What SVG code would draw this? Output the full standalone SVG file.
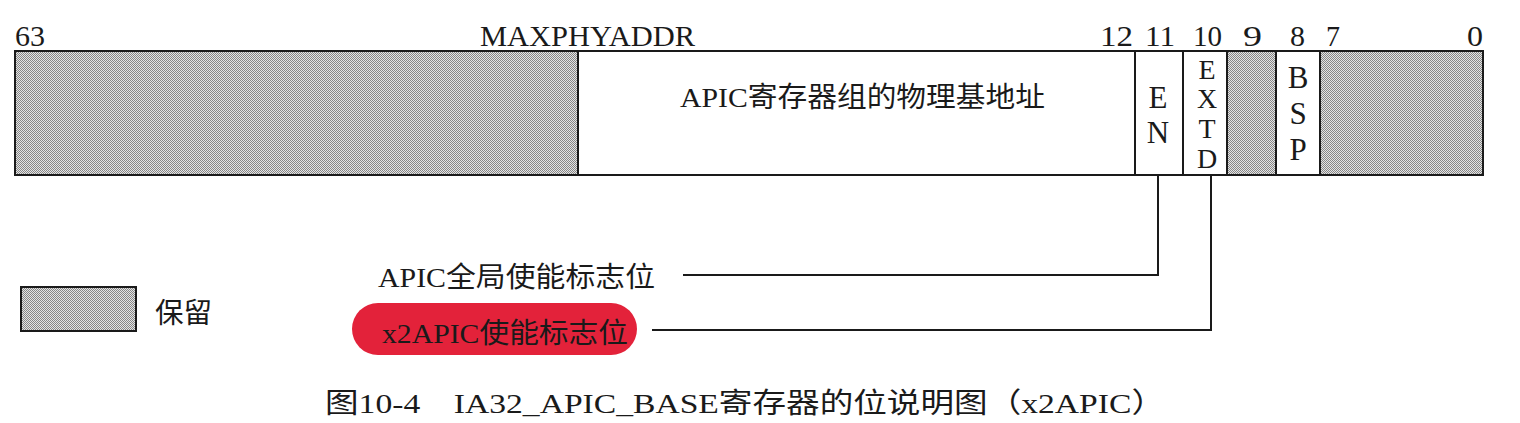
<svg xmlns="http://www.w3.org/2000/svg" width="1520" height="423" viewBox="0 0 1520 423">
<defs>
<pattern id="dots" width="2" height="2" patternUnits="userSpaceOnUse">
<rect width="2" height="2" fill="#e4e4e4"/>
<rect width="1" height="1" fill="#868686"/>
<rect x="1" y="1" width="1" height="1" fill="#868686"/>
</pattern>
<style>
text{font-family:"Liberation Serif","Noto Sans CJK SC",serif;fill:#1a1a1a;font-size:28px}
.num{font-size:30px}
.ltr{font-size:31px;text-anchor:middle}
.ltr2{font-size:28px;text-anchor:middle}
.res{fill:url(#dots);stroke:#1a1a1a;stroke-width:2}
.fld{fill:#fff;stroke:#1a1a1a;stroke-width:2}
.conn{fill:none;stroke:#1a1a1a;stroke-width:2}
</style>
</defs>
<rect width="1520" height="423" fill="#fff"/>
<g id="bit-labels">
<text class="num" x="15" y="46" textLength="30" lengthAdjust="spacingAndGlyphs">63</text>
<text class="num" x="480" y="46" textLength="215" lengthAdjust="spacingAndGlyphs">MAXPHYADDR</text>
<text class="num" x="1100" y="46" textLength="33" lengthAdjust="spacingAndGlyphs">12</text>
<text class="num" x="1145" y="46" textLength="30" lengthAdjust="spacingAndGlyphs">11</text>
<text class="num" x="1193" y="46" textLength="29" lengthAdjust="spacingAndGlyphs">10</text>
<text class="num" x="1243" y="46" textLength="19" lengthAdjust="spacingAndGlyphs">9</text>
<text class="num" x="1290" y="46" textLength="15" lengthAdjust="spacingAndGlyphs">8</text>
<text class="num" x="1326" y="46" textLength="14" lengthAdjust="spacingAndGlyphs">7</text>
<text class="num" x="1467" y="46" textLength="16" lengthAdjust="spacingAndGlyphs">0</text>
</g>
<g id="reserved-63-MAX">
<rect class="res" x="15" y="51" width="563" height="124"/>
</g>
<g id="base-address">
<rect class="fld" x="578" y="51" width="557" height="124"/>
<text x="680" y="107" textLength="365" lengthAdjust="spacingAndGlyphs">APIC寄存器组的物理基地址</text>
</g>
<g id="field-EN">
<rect class="fld" x="1135" y="51" width="48" height="124"/>
<text class="ltr" x="1158" y="108">E</text>
<text class="ltr" x="1158" y="143">N</text>
</g>
<g id="field-EXTD">
<rect class="fld" x="1183" y="51" width="44" height="124"/>
<text class="ltr2" x="1207" y="79">E</text>
<text class="ltr2" x="1207" y="108">X</text>
<text class="ltr2" x="1207" y="138">T</text>
<text class="ltr2" x="1207" y="168">D</text>
</g>
<g id="reserved-9">
<rect class="res" x="1227" y="51" width="49" height="124"/>
</g>
<g id="field-BSP">
<rect class="fld" x="1276" y="51" width="44" height="124"/>
<text class="ltr" x="1298" y="88">B</text>
<text class="ltr" x="1298" y="124">S</text>
<text class="ltr" x="1298" y="160">P</text>
</g>
<g id="reserved-7-0">
<rect class="res" x="1320" y="51" width="163" height="124"/>
</g>
<g id="connectors">
<polyline class="conn" points="1158,175 1158,275 683,275"/>
<polyline class="conn" points="1211,175 1211,330 652,330"/>
</g>
<g id="label-en">
<text x="378" y="287" textLength="277" lengthAdjust="spacingAndGlyphs">APIC全局使能标志位</text>
</g>
<g id="label-x2apic">
<rect x="352" y="303" width="285" height="52" rx="26" ry="26" fill="#e3223a"/>
<text x="382" y="343" textLength="246" lengthAdjust="spacingAndGlyphs">x2APIC使能标志位</text>
</g>
<g id="legend">
<rect class="res" x="21" y="287" width="115" height="44"/>
<text x="155" y="323" textLength="57" lengthAdjust="spacingAndGlyphs">保留</text>
</g>
<g id="caption">
<text x="325" y="413" textLength="840" lengthAdjust="spacingAndGlyphs">图10-4　IA32_APIC_BASE寄存器的位说明图（x2APIC）</text>
</g>
</svg>
